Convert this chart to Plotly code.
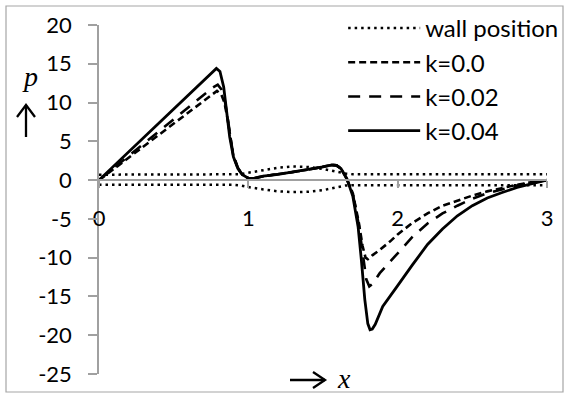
import plotly.graph_objects as go

# ---- data ----
wall_x = [0.0, 0.9, 0.95, 1.0, 1.1, 1.2, 1.3, 1.4, 1.5, 1.6, 1.65, 1.7, 3.0]
wall_upper = [0.7, 0.7, 0.75, 0.95, 1.3, 1.6, 1.75, 1.7, 1.45, 1.0, 0.85, 0.75, 0.75]
wall_lower = [-0.6, -0.6, -0.7, -0.9, -1.2, -1.45, -1.55, -1.5, -1.3, -0.85, -0.7, -0.65, -0.65]

x_k00 = [0.0, 0.2, 0.4, 0.6, 0.76, 0.79, 0.82, 0.84, 0.86, 0.88, 0.9, 0.93, 0.96, 1.0, 1.03,
         1.1, 1.2, 1.3, 1.4, 1.5, 1.56, 1.59, 1.62, 1.66, 1.70, 1.74, 1.765, 1.785, 1.80,
         1.83, 1.88, 1.95, 2.0, 2.1, 2.2, 2.3, 2.4, 2.5, 2.6, 2.7, 2.8, 2.9, 3.0]
p_k00 = [0.0, 2.9, 5.85, 8.8, 11.1, 11.5, 11.0, 10.0, 8.0, 5.3, 3.1, 1.5, 0.7, 0.25, 0.2,
         0.5, 0.75, 1.05, 1.35, 1.7, 1.95, 1.9, 1.5, 0.1, -1.7, -5.5, -8.5, -10.0, -10.2,
         -9.7, -9.0, -7.9, -7.0, -5.5, -4.3, -3.3, -2.6, -2.0, -1.45, -1.0, -0.6, -0.25, 0.0]

x_k02 = [0.0, 0.2, 0.4, 0.6, 0.76, 0.795, 0.82, 0.84, 0.86, 0.88, 0.9, 0.93, 0.96, 1.0, 1.03,
         1.1, 1.2, 1.3, 1.4, 1.5, 1.56, 1.59, 1.62, 1.66, 1.70, 1.74, 1.765, 1.79, 1.81,
         1.83, 1.88, 1.95, 2.0, 2.1, 2.2, 2.3, 2.4, 2.5, 2.6, 2.7, 2.8, 2.9, 3.0]
p_k02 = [0.0, 3.1, 6.2, 9.4, 11.9, 12.3, 11.7, 10.5, 8.3, 5.5, 3.2, 1.6, 0.7, 0.25, 0.2,
         0.5, 0.75, 1.05, 1.35, 1.7, 1.95, 1.9, 1.5, 0.1, -1.8, -5.8, -9.5, -12.8, -13.7,
         -13.4, -12.0, -10.5, -9.3, -7.3, -5.6, -4.3, -3.3, -2.4, -1.7, -1.15, -0.7, -0.3, 0.0]

x_k04 = [0.0, 0.2, 0.4, 0.6, 0.76, 0.786, 0.81, 0.835, 0.853, 0.875, 0.9, 0.93, 0.96, 1.0, 1.03,
         1.1, 1.2, 1.3, 1.4, 1.5, 1.56, 1.59, 1.62, 1.66, 1.70, 1.735, 1.757, 1.78, 1.80,
         1.815, 1.83, 1.85, 1.90, 1.95, 2.0, 2.1, 2.2, 2.3, 2.4, 2.5, 2.6, 2.7, 2.8, 2.9, 3.0]
p_k04 = [0.0, 3.66, 7.3, 10.95, 13.9, 14.4, 14.0, 12.0, 9.1, 5.6, 3.0, 1.5, 0.7, 0.25, 0.2,
         0.5, 0.75, 1.05, 1.35, 1.7, 1.95, 1.9, 1.5, 0.2, -2.1, -6.0, -10.3, -15.4, -18.5,
         -19.3, -19.2, -18.6, -16.3, -14.9, -13.6, -10.9, -8.3, -6.3, -4.6, -3.3, -2.3, -1.6,
         -0.95, -0.45, 0.0]

x_ticks = [0, 1, 2, 3]
y_ticks = [-25, -20, -15, -10, -5, 0, 5, 10, 15, 20]

# ---- figure ----
FONT = "Lato"
AXC = "#a0a0a0"
ML, MR, MT, MB = 99, 17, 25, 20
PW, PH = 564 - ML - MR, 394 - MT - MB


def px(xp):
    return (xp - ML) / PW


def py(yp):
    return (394 - MB - yp) / PH


fig = go.Figure()

wall_dash = "2.5px,4px"
fig.add_trace(go.Scatter(x=wall_x, y=wall_upper, mode="lines", name="wall position",
                         legendgroup="wall", line=dict(color="black", width=2.5, dash=wall_dash)))
fig.add_trace(go.Scatter(x=wall_x, y=wall_lower, mode="lines", name="wall position",
                         legendgroup="wall", showlegend=False,
                         line=dict(color="black", width=2.5, dash=wall_dash)))
fig.add_trace(go.Scatter(x=x_k00, y=p_k00, mode="lines", name="k=0.0", legendgroup="k00",
                         line=dict(color="black", width=2.6, dash="7px,4px")))
fig.add_trace(go.Scatter(x=x_k02, y=p_k02, mode="lines", name="k=0.02", legendgroup="k02",
                         line=dict(color="black", width=2.6, dash="12px,9px")))
fig.add_trace(go.Scatter(x=x_k04, y=p_k04, mode="lines", name="k=0.04", legendgroup="k04",
                         line=dict(color="black", width=2.8)))

fig.update_layout(
    width=564, height=394,
    margin=dict(l=ML, r=MR, t=MT, b=MB, autoexpand=False),
    paper_bgcolor="white", plot_bgcolor="white",
    font=dict(family=FONT, size=22, color="black"),
    showlegend=True,
    legend=dict(x=0.545, y=py(6), xanchor="left", yanchor="top",
                bgcolor="rgba(0,0,0,0)", font=dict(size=24), itemwidth=72,
                tracegroupgap=0),
    xaxis=dict(range=[0, 3], tickvals=x_ticks, ticktext=[str(v) for v in x_ticks],
               showgrid=False, zeroline=False, showline=True, linecolor=AXC, linewidth=1.5,
               ticks="outside", ticklen=7, tickcolor=AXC, tickwidth=1.5,
               anchor="free", position=25 / 45, ticklabelstandoff=12),
    yaxis=dict(range=[-25, 20], tickvals=y_ticks, ticktext=[str(v) for v in y_ticks],
               showgrid=False, zeroline=False, showline=True, linecolor=AXC, linewidth=1.5,
               ticks="outside", ticklen=9, tickcolor=AXC, tickwidth=1.5,
               ticklabelstandoff=12),
)

# outer chart border
fig.add_shape(type="rect", xref="paper", yref="paper",
              x0=px(6), x1=px(563), y0=py(392), y1=py(6),
              line=dict(color="#a6a6a6", width=1.2), layer="below")

# axis-title arrows (up arrow next to p, right arrow next to x)
arrow_line = dict(color="black", width=2.3)
fig.add_shape(type="line", xref="paper", yref="paper",
              x0=px(26), x1=px(26), y0=py(137), y1=py(105), line=arrow_line)
fig.add_shape(type="path", xref="paper", yref="paper",
              path=f"M{px(17)},{py(117)} L{px(26)},{py(105)} L{px(35)},{py(117)}",
              line=arrow_line)
fig.add_shape(type="line", xref="paper", yref="paper",
              x0=px(290), x1=px(325), y0=py(380), y1=py(380), line=arrow_line)
fig.add_shape(type="path", xref="paper", yref="paper",
              path=f"M{px(313)},{py(372)} L{px(325)},{py(380)} L{px(313)},{py(388)}",
              line=arrow_line)

# axis titles
fig.add_annotation(xref="paper", yref="paper", x=px(30), y=py(76),
                   xanchor="center", yanchor="middle",
                   text="<i>p</i>", showarrow=False,
                   font=dict(family="Liberation Serif", size=28))
fig.add_annotation(xref="paper", yref="paper", x=px(344), y=py(378),
                   xanchor="center", yanchor="middle",
                   text="<i>x</i>", showarrow=False,
                   font=dict(family="Liberation Serif", size=28))

fig.write_html("out.html")
